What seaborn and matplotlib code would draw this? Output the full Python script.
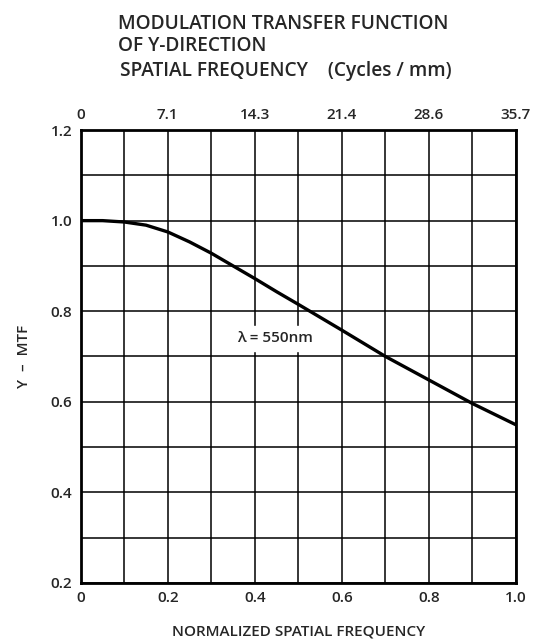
import numpy as np
import pandas as pd
import seaborn as sns
import matplotlib.pyplot as plt

# curve
norm_freq = [0.0, 0.05, 0.1, 0.15, 0.2, 0.25, 0.3, 0.35, 0.4, 0.45, 0.5, 0.6, 0.7, 0.8, 0.9, 1.0]
y_mtf = [1.0, 1.0, 0.997, 0.99, 0.975, 0.953, 0.928, 0.90, 0.872, 0.843, 0.815, 0.758, 0.70, 0.648, 0.596, 0.549]

bottom_ticks = [0, 0.2, 0.4, 0.6, 0.8, 1.0]
bottom_labels = ["0", "0.2", "0.4", "0.6", "0.8", "1.0"]
top_labels = ["0", "7.1", "14.3", "21.4", "28.6", "35.7"]
y_ticks = [0.2, 0.4, 0.6, 0.8, 1.0, 1.2]

sns.set_style("white")
plt.rcParams['font.family'] = ['Open Sans', 'DejaVu Sans']
plt.rcParams['font.weight'] = 'semibold'
plt.rcParams['axes.labelweight'] = 'semibold'

df = pd.DataFrame({"freq": norm_freq, "mtf": y_mtf})

fig = plt.figure(figsize=(5.42, 6.44), dpi=100)
ax = fig.add_axes([0.149, 0.095, 0.803, 0.703])

sns.lineplot(data=df, x="freq", y="mtf", color="black", linewidth=2.4, ax=ax)

ax.set_xlim(0, 1.0)
ax.set_ylim(0.2, 1.2)
ax.set_xticks(np.arange(0, 1.01, 0.1), minor=True)
ax.set_yticks(np.arange(0.2, 1.21, 0.1), minor=True)
ax.grid(True, which="both", color="black", linewidth=1.1)
ax.set_xticks(bottom_ticks)
ax.set_xticklabels(bottom_labels)
ax.set_yticks(y_ticks)
ax.set_yticklabels(["%.1f" % v for v in y_ticks])
ax.tick_params(which="both", length=0, labelsize=11, pad=6)
for s in ax.spines.values():
    s.set_color("black")
    s.set_linewidth(2)

ax.set_xlabel("NORMALIZED SPATIAL FREQUENCY", fontsize=11, labelpad=14)
ax.set_ylabel("Y  \u2013  MTF", fontsize=11, labelpad=14)

top = ax.twiny()
top.set_xlim(0, 1.0)
top.set_xticks(bottom_ticks)
top.set_xticklabels(top_labels)
top.tick_params(length=0, labelsize=11, pad=6)
for s in top.spines.values():
    s.set_visible(False)

ax.text(0.446, 0.74, "\u03bb = 550nm", ha="center", va="center", fontsize=11,
        backgroundcolor="white")

fig.text(0.218, 0.962, "MODULATION TRANSFER FUNCTION", fontsize=13.8, va="center")
fig.text(0.218, 0.929, "OF Y-DIRECTION", fontsize=13.8, va="center")
fig.text(0.221, 0.889, "SPATIAL FREQUENCY    (Cycles / mm)", fontsize=13.8, va="center")

fig.savefig("out.png", dpi=100)
